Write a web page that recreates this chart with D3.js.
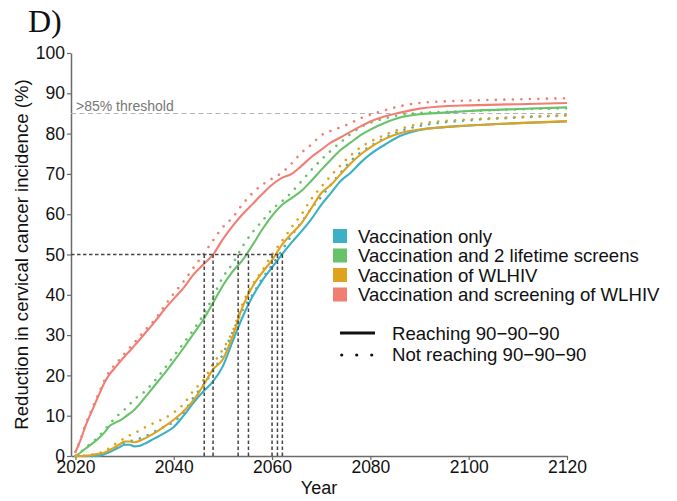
<!DOCTYPE html>
<html>
<head>
<meta charset="utf-8">
<script src="https://cdn.jsdelivr.net/npm/d3@7"></script>
<style>
  body { margin: 0; background: #fff; }
  text { font-family: "Liberation Sans", Arial, Helvetica, sans-serif; }
</style>
</head>
<body>
<svg id="chart" width="677" height="501"></svg>
<script>
// Model years (annual early on, coarser once the curves level off)
const years = [2020,2021,2022,2023,2024,2025,2026,2027,2028,2029,2030,2031,2032,2033,2034,
  2036,2038,2040,2042,2044,2046,2048,2050,2052,2054,2056,2058,2060,2062,2064,2066,2068,
  2070,2072,2074,2076,2078,2080,2083,2086,2090,2095,2100,2110,2120];

// Reduction in cervical cancer incidence (%) per strategy and HIV-care scenario
const vaccOnlyReach = [0,0,0,0,0,0.1,0.5,1.0,1.6,2.2,2.8,2.8,2.4,2.5,3.0,
  4.3,5.6,7.2,10.0,13.2,16.0,18.5,22.3,28.5,34.5,39.5,43.5,46.8,50.0,53.0,55.8,58.8,
  62.3,65.3,68.3,70.3,72.8,74.9,77.3,79.4,80.9,81.6,82.0,82.6,83.0];
const vaccOnlyNot = [0,0,0,0,0.1,0.3,0.7,1.3,2.0,2.7,3.3,3.7,3.9,4.3,4.8,
  6.0,7.2,8.5,10.8,14.5,17.6,21.0,25.3,30.8,36.2,40.0,44.0,47.4,51.0,54.8,58.0,61.5,
  64.3,67.4,70.4,73.2,75.3,76.9,79.0,80.6,81.9,82.8,83.3,84.0,84.5];
const screensReach = [0,0.8,1.8,2.7,3.6,4.7,6.0,7.5,8.2,8.8,9.6,10.5,11.5,12.8,14.3,
  17.3,20.3,23.5,26.8,30.3,33.8,38.0,42.3,45.8,48.6,52.3,56.2,59.6,62.3,64.0,65.8,68.3,
  71.0,73.6,76.0,77.8,79.6,81.0,82.7,84.0,84.8,85.2,85.6,86.1,86.5];
const screensNot = [0,0.9,2.0,3.0,4.0,5.2,6.6,8.0,9.3,10.5,11.5,12.8,14.1,15.0,15.9,
  18.5,21.5,24.8,28.0,31.3,35.0,39.5,44.4,47.8,52.0,55.5,58.3,61.2,63.2,65.5,68.2,71.0,
  73.5,75.8,77.9,79.9,81.6,82.7,83.8,84.6,85.1,85.4,85.6,86.0,86.3];
const wlhivReach = [0,0,0.1,0.2,0.4,0.6,0.9,1.5,2.2,2.9,3.6,3.6,3.4,3.7,4.3,
  5.6,7.2,9.0,11.1,13.8,17.5,21.5,24.0,29.8,37.0,42.0,45.5,48.6,52.4,55.2,57.8,61.5,
  65.2,67.3,70.0,72.6,74.8,76.6,78.7,80.1,81.0,81.6,82.0,82.6,83.1];
const wlhivNot = [0,0,0.1,0.3,0.5,0.8,1.3,2.0,2.9,3.7,4.4,5.1,5.7,6.3,7.0,
  8.2,9.3,10.8,12.9,16.2,18.8,22.8,26.5,31.0,37.8,42.5,46.0,50.0,53.3,56.8,60.0,63.8,
  66.8,69.6,72.2,74.6,76.6,78.0,79.7,81.1,82.4,83.1,83.5,84.1,84.6];
const wlhivScreenReach = [1.0,3.8,7.3,10.2,13.0,15.8,18.4,20.4,21.8,23.3,24.7,26.0,27.4,28.8,30.2,
  33.1,36.2,39.0,41.7,45.0,47.5,50.0,53.8,57.1,60.0,62.5,65.0,67.3,69.0,70.0,72.0,74.2,
  76.0,77.8,79.1,80.5,81.8,83.0,84.3,85.2,86.2,86.8,87.0,87.3,87.6];
const wlhivScreenNot = [1.0,4.0,7.6,10.6,13.5,16.3,19.0,21.2,22.6,24.0,25.4,26.8,28.2,29.6,31.0,
  33.6,37.0,40.3,43.3,46.7,50.0,53.5,56.8,59.2,62.5,65.2,67.3,68.8,70.3,72.6,75.3,77.3,
  79.6,80.7,81.6,82.6,83.8,84.7,85.8,86.8,87.6,88.0,88.2,88.5,88.8];

const categories = ["Vaccination only", "Vaccination and 2 lifetime screens",
  "Vaccination of WLHIV", "Vaccination and screening of WLHIV"];
const scenarios = ["Reaching 90\u221290\u221290", "Not reaching 90\u221290\u221290"];
const palette = ["#3CB0C6", "#67C26A", "#E0A21E", "#F07E73"];

const xTicks = [2020, 2040, 2060, 2080, 2100, 2120];
const yTicks = [0, 10, 20, 30, 40, 50, 60, 70, 80, 90, 100];

const thresholdLevel = 85;
const halfLevel = 50;
// Year in which each curve reaches a 50% reduction
const halfYears = [2046.2, 2048.0, 2053.1, 2055.2, 2060.0, 2061.1, 2062.1];

const seriesList = [
  { cat: 0, reach: true,  values: vaccOnlyReach },
  { cat: 0, reach: false, values: vaccOnlyNot },
  { cat: 1, reach: true,  values: screensReach },
  { cat: 1, reach: false, values: screensNot },
  { cat: 2, reach: true,  values: wlhivReach },
  { cat: 2, reach: false, values: wlhivNot },
  { cat: 3, reach: true,  values: wlhivScreenReach },
  { cat: 3, reach: false, values: wlhivScreenNot }
];

const svg = d3.select("#chart");
const x = d3.scaleLinear().domain([2019.1, 2120]).range([71, 567]);
const y = d3.scaleLinear().domain([0, 100]).range([456, 53]);
const colour = d3.scaleOrdinal().domain(d3.range(categories.length)).range(palette);

// Panel label
svg.append("text")
  .attr("x", 28).attr("y", 32)
  .style("font-family", "'Liberation Serif', 'Times New Roman', serif")
  .style("font-size", "32px")
  .attr("fill", "#111")
  .text("D)");

// Axes
const axisColour = "#6a6a6a";
const gx = svg.append("g").attr("transform", `translate(0,${y(0)})`)
  .call(d3.axisBottom(x).tickValues(xTicks).tickFormat(d3.format("d"))
    .tickSize(4).tickSizeOuter(0).tickPadding(1));
const gy = svg.append("g").attr("transform", `translate(${x.range()[0]},0)`)
  .call(d3.axisLeft(y).tickValues(yTicks).tickSize(4).tickSizeOuter(0).tickPadding(2));
[gx, gy].forEach(g => {
  g.select(".domain").attr("stroke", axisColour).attr("stroke-width", 1.5);
  g.selectAll(".tick line").attr("stroke", axisColour).attr("stroke-width", 1.2);
  g.selectAll(".tick text").attr("fill", "#111")
    .style("font-size", "17.5px").style("font-family", "'Liberation Sans', Arial, sans-serif");
});

// Axis titles
svg.append("text")
  .attr("x", (x.range()[0] + x.range()[1]) / 2).attr("y", 494)
  .attr("text-anchor", "middle").style("font-size", "18px").attr("fill", "#111")
  .text("Year");
svg.append("text")
  .attr("transform", `translate(28,${(y(0) + y(100)) / 2}) rotate(-90)`)
  .attr("text-anchor", "middle").style("font-size", "18.6px").attr("fill", "#111")
  .text("Reduction in cervical cancer incidence (%)");

// 85% threshold
svg.append("line")
  .attr("x1", x.range()[0]).attr("x2", x.range()[1])
  .attr("y1", y(thresholdLevel)).attr("y2", y(thresholdLevel))
  .attr("stroke", "#b5b5b5").attr("stroke-width", 1.1).attr("stroke-dasharray", "5,3.5");
svg.append("text")
  .attr("x", x.range()[0] + 5).attr("y", y(thresholdLevel) - 2)
  .style("font-size", "14px").attr("fill", "#777")
  .text(">85% threshold");

// Curves
const line = d3.line()
  .x((d, i) => x(years[i]))
  .y(d => y(d))
  .curve(d3.curveMonotoneX);

svg.append("g").selectAll("path")
  .data(seriesList)
  .join("path")
  .attr("d", s => line(s.values))
  .attr("fill", "none")
  .attr("stroke", s => colour(s.cat))
  .attr("stroke-width", s => s.reach ? 2.1 : 2.6)
  .attr("stroke-linecap", s => s.reach ? "butt" : "round")
  .attr("stroke-dasharray", s => s.reach ? null : "0.01 8.5");

// Years to a 50% reduction
const guides = svg.append("g")
  .attr("stroke", "#454545").attr("stroke-width", 1.5).attr("stroke-dasharray", "3.5,2.5");
guides.append("line")
  .attr("x1", x.range()[0]).attr("x2", x(d3.max(halfYears)))
  .attr("y1", y(halfLevel)).attr("y2", y(halfLevel));
guides.selectAll("line.v")
  .data(halfYears)
  .join("line").attr("class", "v")
  .attr("x1", d => x(d)).attr("x2", d => x(d))
  .attr("y1", y(0)).attr("y2", y(halfLevel));

// Legend: strategies
const legend = svg.append("g").attr("transform", "translate(333,236)");
const rows = legend.selectAll("g").data(categories).join("g")
  .attr("transform", (d, i) => `translate(0,${i * 19.5})`);
rows.append("rect")
  .attr("x", 0).attr("y", -7).attr("width", 14).attr("height", 14)
  .attr("fill", (d, i) => colour(i));
rows.append("text")
  .attr("x", 25).attr("y", 6.5)
  .style("font-size", "18.6px").attr("fill", "#111")
  .text(d => d);

// Legend: HIV-care scenarios
const legend2 = svg.append("g").attr("transform", "translate(340,333)");
const rows2 = legend2.selectAll("g").data(scenarios).join("g")
  .attr("transform", (d, i) => `translate(0,${i * 21})`);
rows2.filter((d, i) => i === 0).append("line")
  .attr("x1", 0).attr("x2", 35).attr("y1", 0).attr("y2", 0)
  .attr("stroke", "#111").attr("stroke-width", 3);
rows2.filter((d, i) => i === 1).selectAll("circle")
  .data([1.7, 16.7, 31.7]).join("circle")
  .attr("cx", d => d).attr("cy", 1).attr("r", 1.6).attr("fill", "#111");
rows2.append("text")
  .attr("x", 52).attr("y", 6.5)
  .style("font-size", "18.6px").attr("fill", "#111")
  .text(d => d);
</script>
</body>
</html>
